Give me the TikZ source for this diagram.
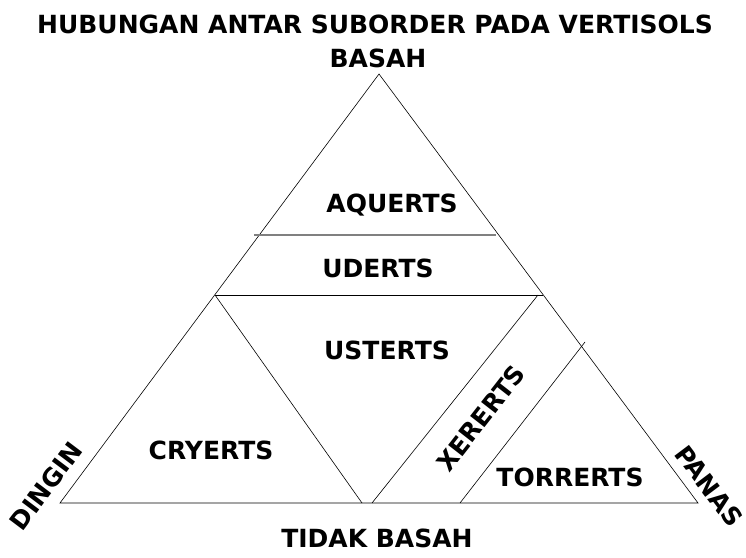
\documentclass[tikz,border=0pt]{standalone}
\usepackage{fontspec}
\setmainfont{DejaVu Sans}
\usepackage{tikz}

\begin{document}
\begin{tikzpicture}[x=1pt,y=1pt,
  lbl/.style={font=\bfseries\fontsize{25}{29}\selectfont, inner sep=0pt},
  side/.style={black, line width=0.6pt}]
  \useasboundingbox (0,0) rectangle (746,557);
  % corners
  \coordinate (T) at (379,483);
  \coordinate (L) at (60,54);
  \coordinate (R) at (698,54);
  \draw[side, line join=miter] (T) -- (L) -- (R) -- cycle;
  % aquerts / uderts
  \coordinate (g1) at (254,322);
  \coordinate (g2) at (496,322);
  \draw[gray, line width=1.2pt] (g1) -- (g2);
  % uderts / lower part
  \coordinate (u1) at (215,262);
  \coordinate (u2) at (543,262);
  \coordinate (u3) at (538,262);
  \coordinate (m1) at (362,54);
  \coordinate (m2) at (372,54);
  \draw[side] (u1) -- (u2);
  \draw[side] (u1) -- (m1);
  \draw[side] (u3) -- (m2);
  % xererts / torrerts
  \coordinate (x1) at (585,215);
  \coordinate (x2) at (460,54);
  \draw[side] (x1) -- (x2);
  % labels
  \node[lbl] (judul) at (375,533) {HUBUNGAN ANTAR SUBORDER PADA VERTISOLS};
  \node[lbl] (basah) at (378,499) {BASAH};
  \node[lbl] (tdk) at (377,19) {TIDAK BASAH};
  \node[lbl, rotate=53] (dingin) at (46,71) {DINGIN};
  \node[lbl, rotate=-53] (panas) at (709,71) {PANAS};
  \node[lbl] (aq) at (392,352) {AQUERTS};
  \node[lbl] (ud) at (378,289) {UDERTS};
  \node[lbl] (us) at (387,207) {USTERTS};
  \node[lbl] (cry) at (211,107) {CRYERTS};
  \node[lbl, rotate=52] (xe) at (481,139) {XERERTS};
  \node[lbl] (tor) at (570,80) {TORRERTS};
\end{tikzpicture}
\end{document}
